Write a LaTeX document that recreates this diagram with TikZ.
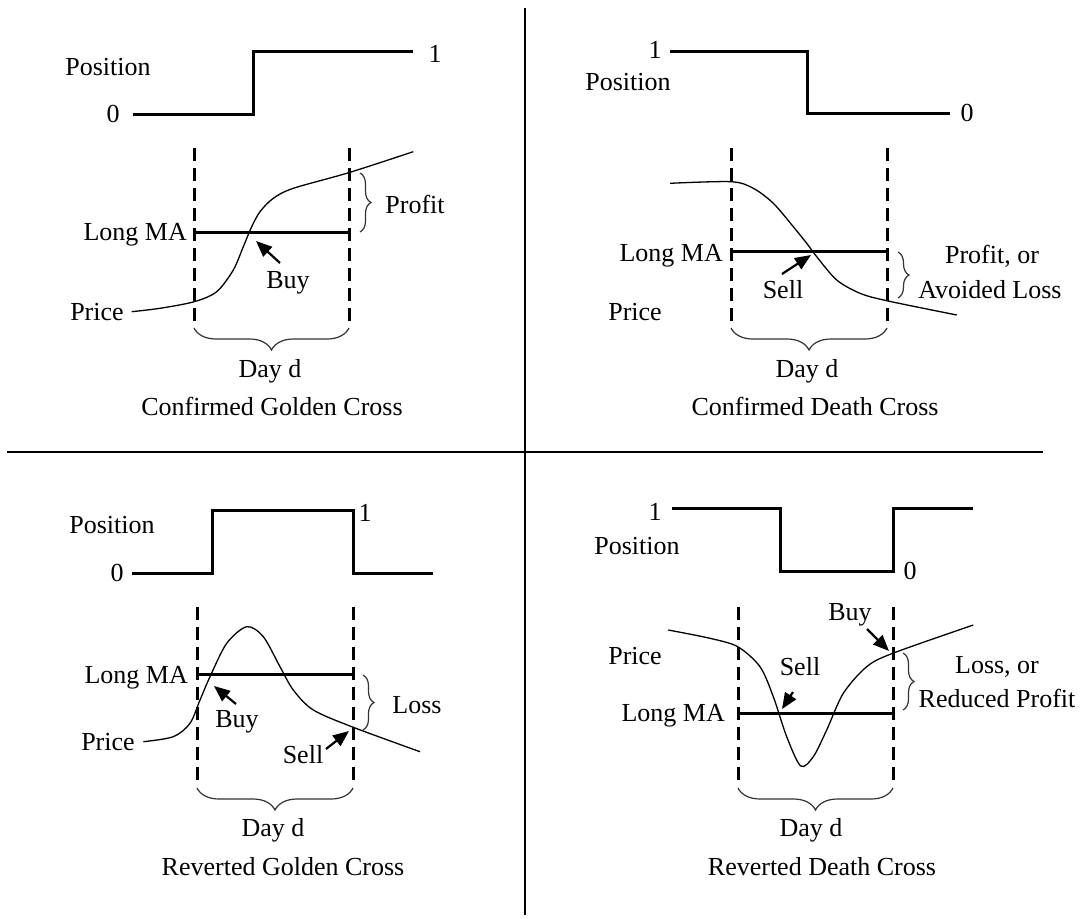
\documentclass[tikz,border=0pt]{standalone}
\usepackage{fontspec}
\setmainfont{Liberation Serif}
\usetikzlibrary{decorations.pathreplacing,arrows.meta}
\begin{document}
\begin{tikzpicture}[x=1pt,y=-1pt,
  every node/.style={font=\fontsize{26}{31}\selectfont, inner sep=0pt},
  lbl/.style={anchor=base},
  lble/.style={anchor=base east},
  posline/.style={line width=3pt, line join=miter},
  dayline/.style={line width=3pt, dash pattern=on 13pt off 7pt},
  maline/.style={line width=3pt},
  priceline/.style={line width=1.3pt},
  divider/.style={line width=1.8pt},
  curly/.style={decorate, decoration={brace, amplitude=#1}, line width=1.2pt, black!80},
  curly/.default=10,
  sig/.style={line width=2.2pt, -{Triangle[length=16pt,width=13pt]}}
]
\useasboundingbox (0,0) rectangle (1081,918);

% dividers
\coordinate (vt) at (525,8);
\coordinate (vb) at (525,915);
\coordinate (hl) at (7,452);
\coordinate (hr) at (1043,452);
\draw[divider] (vt) -- (vb);
\draw[divider] (hl) -- (hr);

% ================= Panel 1: Confirmed Golden Cross =================
\draw[posline] (133,114) -- (253,114) -- (253,51) -- (413,51);
\node[lbl] (p1pos) at (108,75) {Position};
\node[lbl] (p1zero) at (113,122) {0};
\node[lbl] (p1one) at (435,62) {1};
\draw[dayline] (194,148) -- (194,322);
\draw[dayline] (349,148) -- (349,322);
\draw[maline] (194,232) -- (349,232);
\draw[priceline] plot[smooth] coordinates {(131.7,311.7) (160,308.3) (194.3,301.7) (216.7,291.7) (233.3,270) (243.3,246.7) (251.7,226.7) (260,211.7) (273.3,198.3) (293.3,188.3) (348.7,172.7) (413.3,151.7)};
\node[lble] (p1ma) at (187,240) {Long MA};
\node[lbl] (p1price) at (97,320) {Price};
\node[lbl] (p1buy) at (288,288) {Buy};
\coordinate (p1buyT) at (280,263);
\coordinate (p1buyH) at (256,241);
\draw[sig] (p1buyT) -- (p1buyH);
\draw[curly=11] (360,173) -- (360,232);
\node[lbl] (p1profit) at (415,213) {Profit};
\draw[curly=22] (349,328) -- (194,328);
\node[lbl] (p1day) at (270,377) {Day d};
\node[lbl] (p1title) at (272,415) {Confirmed Golden Cross};

% ================= Panel 2: Confirmed Death Cross =================
\draw[posline] (670,51) -- (807,51) -- (807,113) -- (950,113);
\node[lbl] (p2one) at (655,58) {1};
\node[lbl] (p2pos) at (628,90) {Position};
\node[lbl] (p2zero) at (967,121) {0};
\draw[dayline] (731,148) -- (731,322);
\draw[dayline] (887,148) -- (887,322);
\draw[maline] (731,251) -- (887,251);
\draw[priceline] plot[smooth] coordinates {(670,183.3) (731,181.7) (753.3,188.3) (773.3,203.3) (793.3,226.7) (806.7,243.3) (816.7,256.7) (836.7,280) (860,293.3) (886.7,300.7) (956.7,315)};
\node[lble] (p2ma) at (723,261) {Long MA};
\node[lbl] (p2price) at (635,320) {Price};
\node[lbl] (p2sell) at (783,298) {Sell};
\coordinate (p2sellT) at (782,274);
\coordinate (p2sellH) at (811,255);
\draw[sig] (p2sellT) -- (p2sellH);
\draw[curly=11] (898,252) -- (898,298);
\node[lbl] (p2profit) at (992,263) {Profit, or};
\node[lbl] (p2avoid) at (990,298) {Avoided Loss};
\draw[curly=22] (887,328) -- (731,328);
\node[lbl] (p2day) at (807,377) {Day d};
\node[lbl] (p2title) at (815,415) {Confirmed Death Cross};

% ================= Panel 3: Reverted Golden Cross =================
\draw[posline] (132,573) -- (212,573) -- (212,510) -- (353,510) -- (353,573) -- (433,573);
\node[lbl] (p3pos) at (112,533) {Position};
\node[lbl] (p3zero) at (117,581) {0};
\node[lbl] (p3one) at (365,521) {1};
\draw[dayline] (197,607) -- (197,782);
\draw[dayline] (353,607) -- (353,782);
\draw[maline] (197,674) -- (353,674);
\draw[priceline] plot[smooth] coordinates {(143.3,741.7) (173.3,736.7) (190,723.3) (200,700) (210,676.7) (226.7,643.3) (246.7,626.7) (263.3,636.7) (280,666.7) (293.3,690) (313.3,710) (353.3,727.3) (420,751.7)};
\node[lble] (p3ma) at (188,683) {Long MA};
\node[lbl] (p3price) at (108,750) {Price};
\node[lbl] (p3buy) at (237,727) {Buy};
\coordinate (p3buyT) at (236,704);
\coordinate (p3buyH) at (214,686);
\draw[sig] (p3buyT) -- (p3buyH);
\node[lbl] (p3sell) at (303,763) {Sell};
\coordinate (p3sellT) at (326,749);
\coordinate (p3sellH) at (349,731);
\draw[sig] (p3sellT) -- (p3sellH);
\draw[curly=11] (363,675) -- (363,730);
\node[lbl] (p3loss) at (417,713) {Loss};
\draw[curly=22] (353,788) -- (197,788);
\node[lbl] (p3day) at (273,836) {Day d};
\node[lbl] (p3title) at (283,875) {Reverted Golden Cross};

% ================= Panel 4: Reverted Death Cross =================
\draw[posline] (672,508) -- (780,508) -- (780,571) -- (893,571) -- (893,508) -- (973,508);
\node[lbl] (p4one) at (655,520) {1};
\node[lbl] (p4pos) at (637,554) {Position};
\node[lbl] (p4zero) at (910,579) {0};
\draw[dayline] (738,607) -- (738,782);
\draw[dayline] (893,607) -- (893,782);
\draw[maline] (738,713) -- (893,713);
\draw[priceline] plot[smooth] coordinates {(668.3,630) (710,638.3) (737.7,646.7) (760,666.7) (773.3,696.7) (786.7,736.7) (800.7,766) (813.3,756.7) (826.7,730) (843.3,693.3) (866.7,666.7) (892.7,653.3) (973.3,625)};
\node[lble] (p4ma) at (725,721) {Long MA};
\node[lbl] (p4price) at (635,664) {Price};
\node[lbl] (p4sell) at (800,675) {Sell};
\coordinate (p4sellT) at (793,692);
\coordinate (p4sellH) at (782,709);
\draw[sig] (p4sellT) -- (p4sellH);
\node[lbl] (p4buy) at (850,620) {Buy};
\coordinate (p4buyT) at (867,629);
\coordinate (p4buyH) at (889,651);
\draw[sig] (p4buyT) -- (p4buyH);
\draw[curly=11] (903,653) -- (903,710);
\node[lbl] (p4loss) at (997,673) {Loss, or};
\node[lbl] (p4red) at (997,707) {Reduced Profit};
\draw[curly=22] (893,788) -- (738,788);
\node[lbl] (p4day) at (811,836) {Day d};
\node[lbl] (p4title) at (822,875) {Reverted Death Cross};
\end{tikzpicture}
\end{document}
